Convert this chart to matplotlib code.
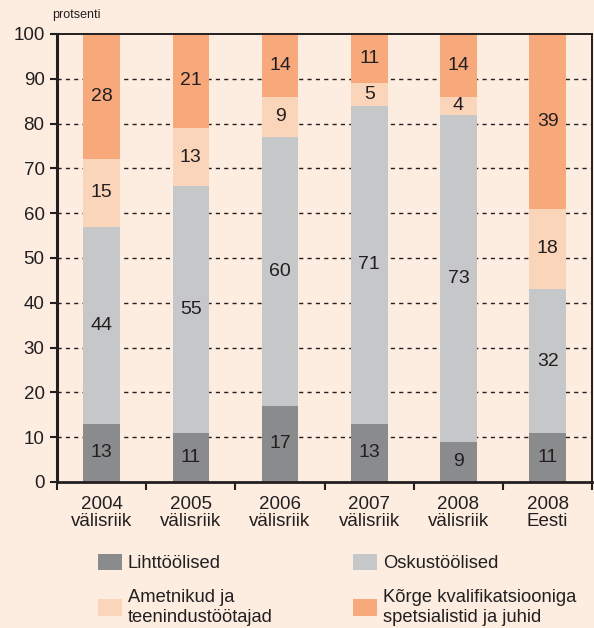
import matplotlib.pyplot as plt
import numpy as np
from matplotlib.patches import Patch

plt.rcParams['font.family'] = ['Liberation Sans', 'DejaVu Sans']

# occupational structure, percent
groups = ["2004\nvälisriik", "2005\nvälisriik", "2006\nvälisriik",
          "2007\nvälisriik", "2008\nvälisriik", "2008\nEesti"]
lihttoolised = [13, 11, 17, 13, 9, 11]
oskustoolised = [44, 55, 60, 71, 73, 32]
ametnikud = [15, 13, 9, 5, 4, 18]
spetsialistid = [28, 21, 14, 11, 14, 39]

series = [
    ("Lihttöölised", lihttoolised, "#8a8b8d"),
    ("Oskustöölised", oskustoolised, "#c6c7c9"),
    ("Ametnikud ja\nteenindustöötajad", ametnikud, "#fbd5b9"),
    ("Kõrge kvalifikatsiooniga\nspetsialistid ja juhid", spetsialistid, "#f8a97c"),
]

bg = "#fdece0"
txt = "#231f20"

fig = plt.figure(figsize=(5.94, 6.28), dpi=100, facecolor=bg)
ax = fig.add_axes([0.096, 0.2325, 0.901, 0.7135], facecolor=bg)

x = np.arange(len(groups))
bottom = np.zeros(len(groups))
for name, vals, color in series:
    vals = np.array(vals, dtype=float)
    ax.bar(x, vals, width=0.41, bottom=bottom, color=color, zorder=3)
    for xi, b, v in zip(x, bottom, vals):
        ax.text(xi, b + v / 2, f"{int(v)}", ha="center", va="center",
                fontsize=14, color=txt, zorder=4)
    bottom += vals

ax.set_xlim(-0.5, len(groups) - 0.5)
ax.set_ylim(0, 100)
ax.set_yticks(range(0, 101, 10))
ax.tick_params(axis="y", labelsize=13.5, colors=txt, length=5, width=1.5, pad=4)
for yv in range(10, 100, 10):
    ax.axhline(yv, color=txt, lw=1.0, ls=(0, (3, 3)), zorder=1)

# category labels in the middle, tick marks between the categories
ax.set_xticks(x)
ax.set_xticklabels(groups, fontsize=13.5, color=txt, linespacing=0.98)
ax.tick_params(axis="x", length=0, pad=10)
ax.set_xticks(np.arange(-0.5, len(groups)), minor=True)
ax.tick_params(axis="x", which="minor", length=6, width=1.5, color=txt)

ax.spines["left"].set_linewidth(2.2)
ax.spines["bottom"].set_linewidth(2.0)
ax.spines["top"].set_linewidth(1.4)
ax.spines["right"].set_linewidth(1.4)
for s in ax.spines.values():
    s.set_color(txt)
    s.set_zorder(5)

fig.text(52 / 594, 1 - 15 / 628, "protsenti", fontsize=9, color=txt,
         ha="left", va="center")

handles = [Patch(facecolor=c, edgecolor="none") for _, _, c in series]
labels = [n for n, _, _ in series]
order = [0, 2, 1, 3]
fig.legend([handles[i] for i in order], [labels[i] for i in order],
           ncol=2, frameon=False, loc="upper left",
           bbox_to_anchor=(81 / 594, 1 - 537 / 628),
           fontsize=13.2, handlelength=1.31, handleheight=1.04,
           handletextpad=0.33, columnspacing=4.4, labelspacing=0.92,
           labelcolor=txt)

fig.savefig("out.png", dpi=100, facecolor=bg)
